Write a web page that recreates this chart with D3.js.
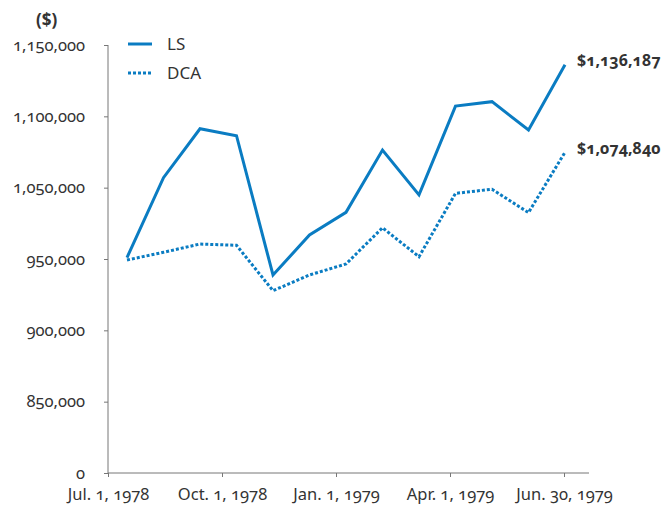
<!DOCTYPE html>
<meta charset="utf-8">
<head>
  <script src="https://d3js.org/d3.v7.min.js"></script>
  <style>
    body { margin: 0; background: #fff; }
    #my_dataviz text { font-family: "Noto Sans", sans-serif; fill: #333; font-variant-numeric: oldstyle-nums; }
  </style>
</head>
<body>
<div id="my_dataviz"></div>
<script>
// data
var dates = ["Jul. 1, 1978", "Aug. 1, 1978", "Sep. 1, 1978", "Oct. 1, 1978", "Nov. 1, 1978",
             "Dec. 1, 1978", "Jan. 1, 1979", "Feb. 1, 1979", "Mar. 1, 1979", "Apr. 1, 1979",
             "May 1, 1979", "Jun. 1, 1979", "Jun. 30, 1979"];
var lsValues  = [1001000, 1057000, 1091300, 1086400, 988800, 1016800, 1032700,
                 1076400, 1044900, 1107200, 1110300, 1090400, 1136187];
var dcaValues = [999300, 1004700, 1010500, 1009600, 977800, 988800, 996500,
                 1021900, 1001600, 1046000, 1048900, 1032500, 1074840];
var xTickLabels = ["Jul. 1, 1978", "Oct. 1, 1978", "Jan. 1, 1979", "Apr. 1, 1979", "Jun. 30, 1979"];
var yTickValues = [850000, 900000, 950000, 1000000, 1050000, 1100000, 1150000];
var yTickLabels = ["0", "850,000", "900,000", "950,000", "1,050,000", "1,100,000", "1,150,000"];
var endLabels = ["$1,136,187", "$1,074,840"];

var margin = {top: 45, right: 76, bottom: 35, left: 108},
    width = 665 - margin.left - margin.right,
    height = 508 - margin.top - margin.bottom;

var svg = d3.select("#my_dataviz")
  .append("svg")
    .attr("width", 665)
    .attr("height", 508)
  .append("g")
    .attr("transform", "translate(" + margin.left + "," + margin.top + ")");

var blue = "#0a7cc2";

// y scale
var y = d3.scaleLinear()
  .domain([850000, 1150000])
  .range([height, 0]);

// x scales: one for the axis labels, one for the monthly points
var xAxisScale = d3.scalePoint()
  .domain(xTickLabels)
  .range([0, 456]);
var x = d3.scalePoint()
  .domain(dates)
  .range([19, 457]);

// Y axis
var yAxis = svg.append("g")
  .call(d3.axisLeft(y).tickValues(yTickValues).tickSize(4)
        .tickFormat(function(d, i) { return yTickLabels[i]; }));
yAxis.select(".domain").attr("stroke", "#777").attr("d", "M0,0V" + height);
yAxis.selectAll(".tick line").attr("stroke", "#777");
yAxis.selectAll("text").attr("x", -23).style("font-size", "16.5px");

// X axis
var xAxis = svg.append("g")
  .attr("transform", "translate(0," + height + ")")
  .call(d3.axisBottom(xAxisScale).tickSize(4));
xAxis.select(".domain").attr("stroke", "#777").attr("d", "M0,0H481");
xAxis.selectAll(".tick line").attr("stroke", "#777");
xAxis.selectAll("text").attr("y", 15).style("font-size", "16.5px");

// "($)" label
svg.append("text")
  .attr("x", -72).attr("y", -19)
  .style("font-size", "17px")
  .style("font-weight", "bold")
  .text("($)");

var line = d3.line()
  .x(function(d, i) { return x(dates[i]); })
  .y(function(d) { return y(d); });

// Lines
svg.append("path")
  .datum(lsValues)
  .attr("fill", "none")
  .attr("stroke", blue)
  .attr("stroke-width", 3)
  .attr("d", line);

svg.append("path")
  .datum(dcaValues)
  .attr("fill", "none")
  .attr("stroke", blue)
  .attr("stroke-width", 3)
  .attr("stroke-dasharray", "3,2")
  .attr("d", line);

// end labels
[lsValues, dcaValues].forEach(function(vals, i) {
  svg.append("text")
    .attr("x", x(dates[dates.length - 1]) + 12)
    .attr("y", y(vals[vals.length - 1]) - 4)
    .attr("dy", "0.35em")
    .style("font-size", "16px")
    .style("font-weight", "bold")
    .text(endLabels[i]);
});

// legend
var legend = [{name: "LS", dash: null}, {name: "DCA", dash: "3,2"}];
legend.forEach(function(d, i) {
  svg.append("line")
    .attr("x1", 20).attr("x2", 44)
    .attr("y1", -1 + i * 29).attr("y2", -1 + i * 29)
    .attr("stroke", blue)
    .attr("stroke-width", 3)
    .attr("stroke-dasharray", d.dash);
  svg.append("text")
    .attr("x", 59).attr("y", -1 + i * 29)
    .attr("dy", "0.35em")
    .style("font-size", "17px")
    .text(d.name);
});
</script>
</body>
